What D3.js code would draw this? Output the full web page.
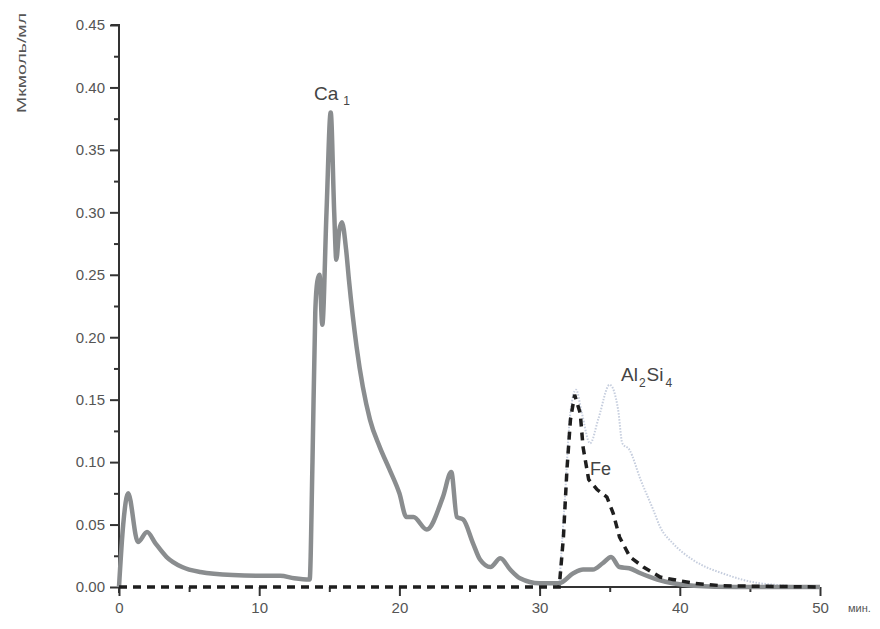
<!DOCTYPE html>
<html>
<head>
<meta charset="utf-8">
<script src="https://cdn.jsdelivr.net/npm/d3@7"></script>
<style>
  body { margin: 0; background: #fff; }
  text { font-family: "Liberation Sans", Arial, sans-serif; }
</style>
</head>
<body>
<div id="chart"></div>
<script>
// minutes / concentration
var caTime = [0, 0.3, 0.65, 1.35, 2.0, 2.6, 3.4, 4.5, 5.8, 8.1, 10.5, 11.5, 12.5, 13.6,
  13.8, 14.0, 14.15, 14.3, 14.5, 14.8, 15.1, 15.35, 15.5, 15.7, 15.9, 16.2, 16.4, 16.95,
  17.9, 18.6, 19.3, 20.0, 20.5, 21.0, 21.95, 23.1, 23.7, 24.1, 24.55, 25.25, 25.75, 26.5,
  27.2, 27.9, 28.6, 30.0, 31.4, 32.4, 33.1, 33.8, 34.5, 35.1, 35.7, 36.4, 37.2, 38.4,
  39.5, 41, 44, 50];
var caVal = [0, 0.05, 0.075, 0.036, 0.044, 0.035, 0.024, 0.016, 0.012, 0.0096, 0.009, 0.009, 0.007, 0.006,
  0.10, 0.22, 0.245, 0.25, 0.21, 0.30, 0.38, 0.30, 0.262, 0.285, 0.292, 0.27, 0.246, 0.192,
  0.134, 0.112, 0.094, 0.075, 0.056, 0.056, 0.046, 0.072, 0.092, 0.056, 0.054, 0.035, 0.022, 0.016,
  0.023, 0.014, 0.007, 0.003, 0.003, 0.011, 0.014, 0.014, 0.019, 0.024, 0.016, 0.015, 0.011, 0.006,
  0.003, 0.001, 0.0, 0.0];

var feTime = [0, 31.4, 31.7, 31.95, 32.2, 32.5, 32.9, 33.1, 33.5, 34.1, 34.8, 35.25, 35.7, 36.45,
  37.4, 38.6, 39.5, 41.0, 43.0, 50];
var feVal = [0, 0, 0.04, 0.094, 0.134, 0.154, 0.139, 0.112, 0.086, 0.078, 0.072, 0.059, 0.040, 0.024,
  0.016, 0.008, 0.006, 0.003, 0.001, 0];

var alTime = [31.4, 31.8, 32.2, 32.6, 33.0, 33.6, 34.2, 35.0, 35.6, 35.9, 36.4, 37.2, 38.1, 38.6,
  39.5, 40.9, 43.4, 45.7, 49.8];
var alVal = [0, 0.07, 0.14, 0.158, 0.14, 0.115, 0.135, 0.162, 0.142, 0.115, 0.11, 0.086, 0.062, 0.048,
  0.035, 0.022, 0.0096, 0.003, 0];

var xMajor = [0, 10, 20, 30, 40, 50];
var xMinor = [5, 15, 25, 35, 45];
var yMajor = [0, 0.05, 0.10, 0.15, 0.20, 0.25, 0.30, 0.35, 0.40, 0.45];
var yMinor = [0.025, 0.075, 0.125, 0.175, 0.225, 0.275, 0.325, 0.375, 0.425];

var W = 880, H = 629;
var svg = d3.select("#chart").append("svg").attr("width", W).attr("height", H);

var x = d3.scaleLinear().domain([0, 50]).range([119, 820]);
var y = d3.scaleLinear().domain([0, 0.45]).range([587, 25]);

function zipSeries(t, v) {
  return t.map(function (d, i) { return [d, v[i]]; });
}

var line = d3.line()
  .x(function (d) { return x(d[0]); })
  .y(function (d) { return y(d[1]); });

var smooth = d3.line()
  .curve(d3.curveMonotoneX)
  .x(function (d) { return x(d[0]); })
  .y(function (d) { return y(d[1]); });

// axes
var axisColor = "#333";

svg.append("g")
  .attr("transform", "translate(" + x(0) + ",0)")
  .call(d3.axisLeft(y).tickValues(yMinor).tickSize(5).tickFormat(""))
  .call(function (g) { g.select(".domain").remove(); });

var yAx = svg.append("g")
  .attr("transform", "translate(" + x(0) + ",0)")
  .call(d3.axisLeft(y).tickValues(yMajor).tickSize(9).tickPadding(5).tickFormat(d3.format(".2f")));
yAx.select(".domain").attr("d", "M0," + (y(0) + 6) + "V" + y(0.45) + "h-8");

svg.append("g")
  .attr("transform", "translate(0," + y(0) + ")")
  .call(d3.axisBottom(x).tickValues(xMinor).tickSize(5).tickFormat(""))
  .call(function (g) { g.select(".domain").remove(); });

var xAx = svg.append("g")
  .attr("transform", "translate(0," + y(0) + ")")
  .call(d3.axisBottom(x).tickValues(xMajor).tickSize(9).tickPadding(6));
xAx.select(".domain").attr("d", "M" + x(31.5) + ",0H" + x(50));

svg.selectAll(".tick line, .domain").attr("stroke", axisColor).attr("stroke-width", 2);
svg.selectAll(".tick text")
  .attr("fill", "#555")
  .style("font-size", "15px")
  .style("font-family", "'Liberation Sans', Arial, sans-serif");

svg.append("text")
  .attr("x", 848).attr("y", 612)
  .attr("fill", "#555")
  .style("font-size", "11px")
  .text("мин.");

svg.append("text")
  .attr("transform", "translate(26,63) rotate(-90)")
  .attr("text-anchor", "middle")
  .attr("fill", "#555")
  .style("font-size", "13px")
  .attr("textLength", 100)
  .attr("lengthAdjust", "spacingAndGlyphs")
  .text("Мкмоль/мл");

// series
svg.append("path")
  .datum(zipSeries(alTime, alVal))
  .attr("fill", "none")
  .attr("stroke", "#c6cede")
  .attr("stroke-width", 2)
  .attr("stroke-dasharray", "1.5,1.5")
  .attr("d", smooth);

svg.append("path")
  .datum(zipSeries(caTime, caVal))
  .attr("fill", "none")
  .attr("stroke", "#8a8d8f")
  .attr("stroke-width", 4.5)
  .attr("stroke-linejoin", "round")
  .attr("d", smooth);

svg.append("path")
  .datum(zipSeries(feTime, feVal))
  .attr("fill", "none")
  .attr("stroke", "#1e1e1e")
  .attr("stroke-width", 3.5)
  .attr("stroke-dasharray", "8,6")
  .attr("d", line);

// labels
var ca = svg.append("text").attr("x", 314).attr("y", 100)
  .attr("fill", "#444").style("font-size", "19px");
ca.append("tspan").text("Ca");
ca.append("tspan").attr("dx", 5).attr("dy", 5).style("font-size", "12px").text("1");

var al = svg.append("text").attr("x", 621).attr("y", 381)
  .attr("fill", "#444").style("font-size", "19px");
al.append("tspan").text("Al");
al.append("tspan").attr("dx", 1).attr("dy", 6).style("font-size", "12px").text("2");
al.append("tspan").attr("dx", 1).attr("dy", -6).text("Si");
al.append("tspan").attr("dx", 2).attr("dy", 6).style("font-size", "12px").text("4");

svg.append("text").attr("x", 590).attr("y", 475)
  .attr("fill", "#444").style("font-size", "18px").text("Fe");
</script>
</body>
</html>
